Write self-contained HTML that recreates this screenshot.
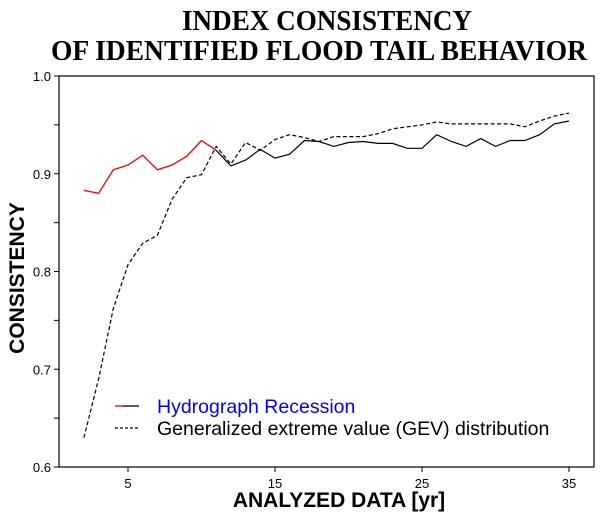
<!DOCTYPE html>
<html><head><meta charset="utf-8"><style>
body{margin:0;background:#fff;}
svg{display:block;}
</style></head><body>
<svg width="600" height="521" xmlns="http://www.w3.org/2000/svg">
<text x="327" y="30" text-anchor="middle" textLength="290" lengthAdjust="spacingAndGlyphs" font-family="'Liberation Serif',serif" font-weight="bold" font-size="29">INDEX CONSISTENCY</text>
<text x="319" y="60" text-anchor="middle" textLength="536" lengthAdjust="spacingAndGlyphs" font-family="'Liberation Serif',serif" font-weight="bold" font-size="29">OF IDENTIFIED FLOOD TAIL BEHAVIOR</text>
<rect x="59" y="76" width="535" height="391" fill="none" stroke="#000" stroke-width="1.2"/>
<g id="axes"></g>
<g id="series"></g>
<text x="24" y="278" text-anchor="middle" transform="rotate(-90 24 278)" font-family="'Liberation Sans',sans-serif" font-weight="bold" font-size="21">CONSISTENCY</text>
<text x="339" y="507" text-anchor="middle" font-family="'Liberation Sans',sans-serif" font-weight="bold" font-size="21">ANALYZED DATA [yr]</text>
<g>
<line x1="115" y1="406" x2="123" y2="406" stroke="#e00" stroke-width="1.3"/>
<line x1="123" y1="406" x2="139" y2="406" stroke="#000" stroke-width="1.3"/>
<text x="157" y="413" font-family="'Liberation Sans',sans-serif" font-size="19.5" fill="#0000ff">Hydrograph Recession</text>
<line x1="115" y1="428" x2="139" y2="428" stroke="#000" stroke-width="1.3" stroke-dasharray="3,2"/>
<text x="157" y="435" font-family="'Liberation Sans',sans-serif" font-size="19.5">Generalized extreme value (GEV) distribution</text>
</g>
</svg>
<script>
const years = [2,3,4,5,6,7,8,9,10,11,12,13,14,15,16,17,18,19,20,21,22,23,24,25,26,27,28,29,30,31,32,33,34,35];
const hydro = [0.883,0.880,0.904,0.909,0.919,0.904,0.909,0.918,0.934,0.924,0.908,0.914,0.925,0.916,0.920,0.934,0.933,0.928,0.932,0.933,0.931,0.931,0.926,0.926,0.940,0.933,0.928,0.936,0.928,0.934,0.934,0.940,0.951,0.954];
const gev = [0.630,0.690,0.762,0.807,0.829,0.837,0.874,0.896,0.899,0.928,0.910,0.932,0.924,0.935,0.940,0.937,0.933,0.938,0.938,0.938,0.941,0.946,0.948,0.950,0.953,0.951,0.951,0.951,0.951,0.951,0.948,0.954,0.959,0.962];
const redUntil = 11;
const xTicks = [5,15,25,35];
const yTicks = [0.6,0.7,0.8,0.9,1.0];
const NS='http://www.w3.org/2000/svg';
const xs = v => 128 + (v-5)*14.7;
const ys = v => 467 - (v-0.6)*977.5;
const axes = document.getElementById('axes');
const series = document.getElementById('series');
function mk(tag, attrs, parent){const e=document.createElementNS(NS,tag);for(const k in attrs)e.setAttribute(k,attrs[k]);parent.appendChild(e);return e;}
xTicks.forEach(t=>{
  const l=mk('line',{x1:xs(t),x2:xs(t),y1:467,y2:472,stroke:'#000'},axes);
  
  
  const tx=mk('text',{x:xs(t),y:488,'text-anchor':'middle','font-family':'Liberation Sans, sans-serif','font-size':'13'},axes);
  tx.textContent=t;
  
  
});
for(let v=0.6;v<=1.0001;v+=0.05){
  const l=mk('line',{x1:54,x2:59,y1:ys(v),y2:ys(v),stroke:'#000'},axes);
  
  
}
yTicks.forEach(t=>{
  const tx=mk('text',{x:51,y:ys(t)+5,'text-anchor':'end','font-family':'Liberation Sans, sans-serif','font-size':'13'},axes);
  tx.textContent=t.toFixed(1);
  
  
});
function pts(arr, from, to){return years.map((y,i)=>[y,arr[i]]).filter(p=>p[0]>=from&&p[0]<=to).map(p=>xs(p[0]).toFixed(1)+','+ys(p[1]).toFixed(1)).join(' ');}
const g=mk('polyline',{points:pts(gev,0,99),fill:'none',stroke:'#000','stroke-width':1.2,'stroke-dasharray':'4,2.5'},series);


const r=mk('polyline',{points:pts(hydro,0,redUntil),fill:'none',stroke:'#e00','stroke-width':1.3},series);


const b=mk('polyline',{points:pts(hydro,redUntil,99),fill:'none',stroke:'#000','stroke-width':1.2},series);


</script>
</body></html>
